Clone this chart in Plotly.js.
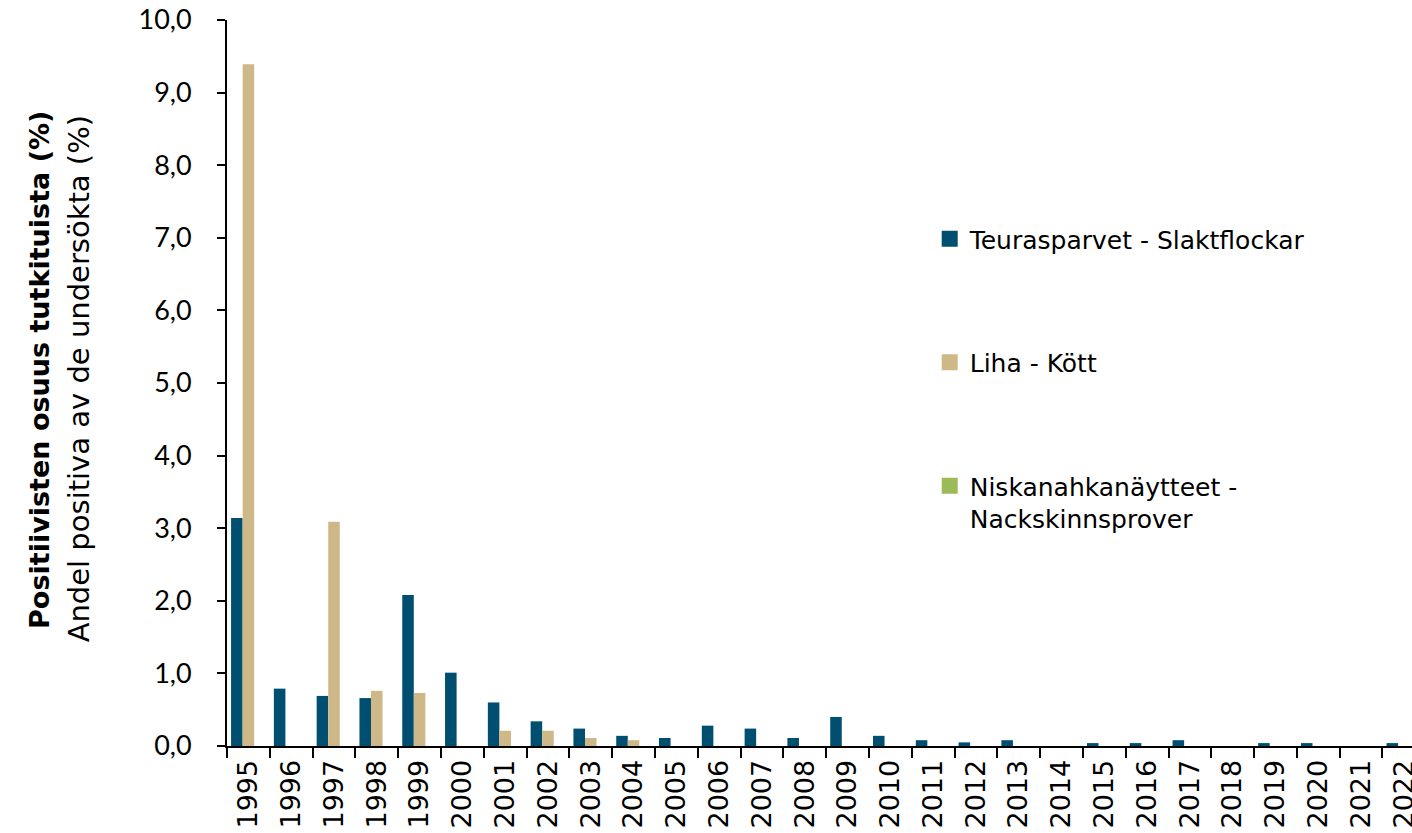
<!DOCTYPE html>
<html>
<head>
<meta charset="utf-8">
<script src="https://cdn.plot.ly/plotly-3.0.1.min.js"></script>
<style>html,body{margin:0;padding:0;background:#fff;}#chart{width:1412px;height:833px;}</style>
</head>
<body>
<div id="chart"></div>
<script>
const years = ['1995','1996','1997','1998','1999','2000','2001','2002','2003','2004','2005','2006','2007','2008','2009','2010','2011','2012','2013','2014','2015','2016','2017','2018','2019','2020','2021','2022'];
const flocks = [3.14,0.79,0.69,0.66,2.08,1.01,0.60,0.34,0.24,0.14,0.11,0.28,0.24,0.11,0.40,0.14,0.08,0.05,0.08,0,0.04,0.04,0.08,0,0.04,0.04,0,0.04];
const meat = [9.39,0,3.09,0.76,0.73,0,0.21,0.21,0.11,0.08,0,0,0,0,0,0,0,0,0,0,0,0,0,0,0,0,0,0];
const neckSkin = [0,0,0,0,0,0,0,0,0,0,0,0,0,0,0,0,0,0,0,0,0,0,0,0,0,0,0,0];

const names = ['Teurasparvet - Slaktflockar','Liha - Kött','Niskanahkanäytteet -<br>Nackskinnsprover'];
const colors = ['#004F70','#CFB888','#9BBB59'];
const series = [flocks, meat, neckSkin];

const bars = series.map((s,i)=>({
  type:'bar', x: years, y: s, name: names[i], legendgroup: 'g'+i, showlegend:false,
  marker:{color: colors[i], line:{width:0}}, hoverinfo:'x+y'
}));
// legend swatches (larger squares than the default bar swatch)
const swatches = names.map((n,i)=>({
  type:'scatter', mode:'markers', x:[null], y:[null], name:n, legendgroup:'g'+i, showlegend:true,
  marker:{symbol:'square', size:16, color:colors[i]}
}));

const layout = {
  width:1412, height:833,
  margin:{l:227, r:0, t:20, b:87},
  paper_bgcolor:'#fff', plot_bgcolor:'#fff',
  separators:', ',
  barmode:'group', bargap:0.19, bargroupgap:0,
  font:{family:'Lato, sans-serif', color:'#000'},
  showlegend:true,
  legend:{x:0.593, y:0.73, xanchor:'left', yanchor:'top', traceorder:'grouped', tracegroupgap:88,
    valign:'top', itemsizing:'trace',
    font:{family:'DejaVu Sans, sans-serif', size:25, color:'#000'}, bgcolor:'rgba(0,0,0,0)'},
  xaxis:{type:'category', range:[-0.5,27.19], showline:true, linecolor:'#000', linewidth:2,
    ticks:'outside', tickson:'boundaries', ticklen:10, tickwidth:2, tickcolor:'#000', ticklabelstandoff:1,
    tickangle:-90, tickfont:{family:'DejaVu Sans, sans-serif', size:27, color:'#000'},
    showgrid:false, zeroline:false, fixedrange:true},
  yaxis:{range:[0,10], dtick:1, tick0:0, tickformat:'.1f', showline:true, linecolor:'#000', linewidth:2,
    ticks:'outside', ticklen:8, tickwidth:2, tickcolor:'#000', ticklabelstandoff:20,
    tickfont:{family:'Lato, sans-serif', size:27, color:'#000'},
    showgrid:false, zeroline:false, fixedrange:true},
  annotations:[
    {text:'<b>Positiivisten osuus tutkituista (%)</b>', xref:'paper', yref:'paper', x:0, y:0.518,
     xanchor:'center', yanchor:'middle', xshift:-187, textangle:-90, showarrow:false,
     font:{family:'DejaVu Sans, sans-serif', size:27, color:'#000'}},
    {text:'Andel positiva av de undersökta (%)', xref:'paper', yref:'paper', x:0, y:0.505,
     xanchor:'center', yanchor:'middle', xshift:-148, textangle:-90, showarrow:false,
     font:{family:'DejaVu Sans, sans-serif', size:29, color:'#000'}}
  ]
};

Plotly.newPlot('chart', bars.concat(swatches), layout, {displayModeBar:false, staticPlot:true});
</script>
</body>
</html>
